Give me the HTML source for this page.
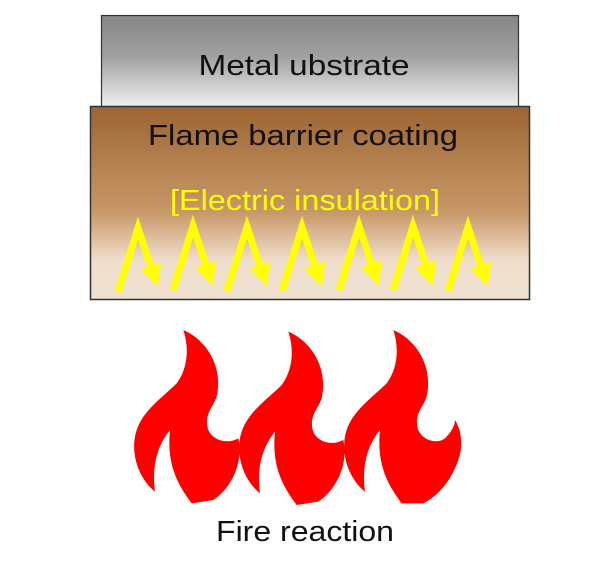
<!DOCTYPE html>
<html><head><meta charset="utf-8"><style>html,body{margin:0;padding:0;background:#fff}svg{display:block}</style></head><body>
<svg width="606" height="566" viewBox="0 0 606 566" xmlns="http://www.w3.org/2000/svg" font-family="Liberation Sans, sans-serif">
<defs>
<linearGradient id="g1" x1="0" y1="0" x2="0" y2="1"><stop offset="0" stop-color="#858585"/><stop offset="0.45" stop-color="#a0a0a0"/><stop offset="1" stop-color="#f0f0f0"/></linearGradient>
<linearGradient id="g2" x1="0" y1="0" x2="0" y2="1"><stop offset="0" stop-color="#9c6532"/><stop offset="0.55" stop-color="#c99868"/><stop offset="0.8" stop-color="#f0dfcd"/><stop offset="1" stop-color="#f0e0d0"/></linearGradient>
<marker id="ah" markerWidth="24" markerHeight="24" refX="4" refY="12" orient="auto" markerUnits="userSpaceOnUse"><path d="M0,1 L22,12 L0,23 Z" fill="#ffff00"/></marker>
<path id="fl" d="M190,30 C260,60 310,140 290,230 C280,260 255,280 262,320 C270,360 320,375 355,355 C370,420 340,500 280,540 L215,550 C170,490 140,430 150,330 C110,380 95,440 105,515 C50,470 30,390 50,330 C70,270 130,230 170,190 C200,150 210,90 190,30 Z"/>
</defs>
<rect x="101.5" y="15.5" width="417" height="91" fill="url(#g1)" stroke="#333" stroke-width="1.2"/>
<rect x="90.5" y="106.5" width="439" height="193" fill="url(#g2)" stroke="#333" stroke-width="1.5"/>
<text x="304" y="75" font-size="29" text-anchor="middle" textLength="211" lengthAdjust="spacingAndGlyphs" fill="#111">Metal ubstrate</text>
<text x="303" y="145" font-size="29" text-anchor="middle" textLength="310" lengthAdjust="spacingAndGlyphs" fill="#111">Flame barrier coating</text>
<text x="305" y="210" font-size="29" text-anchor="middle" textLength="270" lengthAdjust="spacingAndGlyphs" fill="#ffff00">[Electric insulation]</text>
<g fill="none" stroke="#ffff00" stroke-width="7" marker-end="url(#ah)">
<polyline points="118,292 138,228 152,270"/>
<polyline points="173,290 193,226 207,268"/>
<polyline points="227,291 247,227 261,269"/>
<polyline points="282,291 302,227 316,269"/>
<polyline points="339,290 359,226 373,268"/>
<polyline points="393,290 413,226 427,268"/>
<polyline points="448,291 468,227 482,269"/>
</g>
<g fill="#ff0000" transform="translate(120,320) scale(0.3333)">
<use href="#fl"/>
<use href="#fl" transform="translate(315,5)"/>
<path transform="translate(630,0)" d="M190,30 C260,60 310,140 290,230 C280,260 255,280 262,320 C270,360 320,375 345,355 C360,340 375,320 375,300 C395,330 400,380 385,420 C360,490 320,530 280,550 L215,550 C170,490 140,430 150,330 C110,380 95,440 105,515 C50,470 30,390 50,330 C70,270 130,230 170,190 C200,150 210,90 190,30 Z"/>
</g>
<text x="305" y="541" font-size="29" text-anchor="middle" textLength="178" lengthAdjust="spacingAndGlyphs" fill="#111">Fire reaction</text>
</svg>
</body></html>
